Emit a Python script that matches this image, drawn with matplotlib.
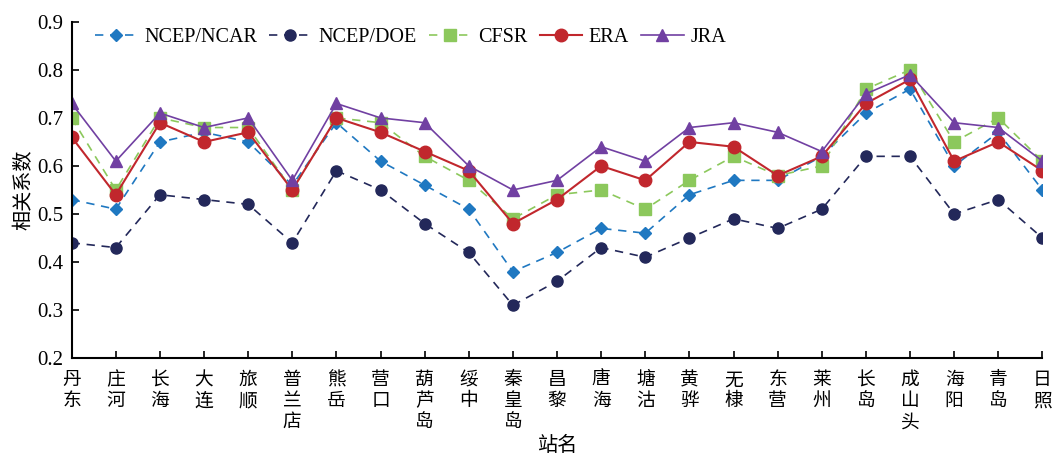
import matplotlib.pyplot as plt
import numpy as np

plt.rcParams["font.family"] = ["Liberation Serif", "Noto Sans CJK SC"]

# Stations along the coast and correlation coefficients for each reanalysis
stations = ["丹东", "庄河", "长海", "大连", "旅顺", "普兰店", "熊岳", "营口",
            "葫芦岛", "绥中", "秦皇岛", "昌黎", "唐海", "塘沽", "黄骅", "无棣",
            "东营", "莱州", "长岛", "成山头", "海阳", "青岛", "日照"]
ncep_ncar = [0.53, 0.51, 0.65, 0.67, 0.65, 0.56, 0.69, 0.61, 0.56, 0.51, 0.38, 0.42,
             0.47, 0.46, 0.54, 0.57, 0.57, 0.62, 0.71, 0.76, 0.60, 0.67, 0.55]
ncep_doe = [0.44, 0.43, 0.54, 0.53, 0.52, 0.44, 0.59, 0.55, 0.48, 0.42, 0.31, 0.36,
            0.43, 0.41, 0.45, 0.49, 0.47, 0.51, 0.62, 0.62, 0.50, 0.53, 0.45]
cfsr = [0.70, 0.55, 0.70, 0.68, 0.68, 0.55, 0.70, 0.69, 0.62, 0.57, 0.49, 0.54,
        0.55, 0.51, 0.57, 0.62, 0.58, 0.60, 0.76, 0.80, 0.65, 0.70, 0.61]
era = [0.66, 0.54, 0.69, 0.65, 0.67, 0.55, 0.70, 0.67, 0.63, 0.59, 0.48, 0.53,
       0.60, 0.57, 0.65, 0.64, 0.58, 0.62, 0.73, 0.78, 0.61, 0.65, 0.59]
jra = [0.73, 0.61, 0.71, 0.68, 0.70, 0.57, 0.73, 0.70, 0.69, 0.60, 0.55, 0.57,
       0.64, 0.61, 0.68, 0.69, 0.67, 0.63, 0.75, 0.79, 0.69, 0.68, 0.61]

x = np.arange(len(stations))

fig = plt.figure(figsize=(10.54, 4.55), dpi=100)
ax = fig.add_axes([0.068, 0.213, 0.921, 0.739])

ax.plot(x, ncep_ncar, "--", color="#1f78c1", marker="D", ms=6, lw=1.2,
        dashes=(5, 4), label="NCEP/NCAR")
ax.plot(x, ncep_doe, "--", color="#23285a", marker="o", ms=8, lw=1.2,
        dashes=(5, 4), label="NCEP/DOE")
ax.plot(x, cfsr, "--", color="#8cc85c", marker="s", ms=8, lw=1.2,
        dashes=(5, 4), label="CFSR")
ax.plot(x, era, "-", color="#c1272d", marker="o", ms=9, lw=1.5, label="ERA")
ax.plot(x, jra, "-", color="#7140a2", marker="^", ms=9, lw=1.2, label="JRA")

ax.set_xlim(0, len(stations) - 1)
ax.set_ylim(0.2, 0.9)
ax.set_yticks(np.arange(0.2, 0.91, 0.1))
ax.set_yticklabels(["%.1f" % v for v in np.arange(0.2, 0.91, 0.1)])
ax.set_xticks(x)
ax.set_xticklabels(["\n".join(s) for s in stations], fontfamily="Noto Sans CJK SC",
                   linespacing=1.0)
ax.tick_params(direction="in", length=5, width=1.2, labelsize=15, pad=6)
ax.tick_params(axis="x", labelsize=13.5, pad=8)
for side in ["top", "right"]:
    ax.spines[side].set_visible(False)
for side in ["left", "bottom"]:
    ax.spines[side].set_linewidth(1.5)

ax.set_ylabel("相关系数", fontfamily="Noto Sans CJK SC", fontsize=14.5, labelpad=2)
ax.set_xlabel("站名", fontfamily="Noto Sans CJK SC", fontsize=14.5, labelpad=2)

ax.legend(ncol=5, frameon=False, loc="upper left", bbox_to_anchor=(0.005, 1.035),
          fontsize=14.5, handlelength=2.1, columnspacing=0.6, handletextpad=0.35)

fig.savefig("out.png", dpi=100)
